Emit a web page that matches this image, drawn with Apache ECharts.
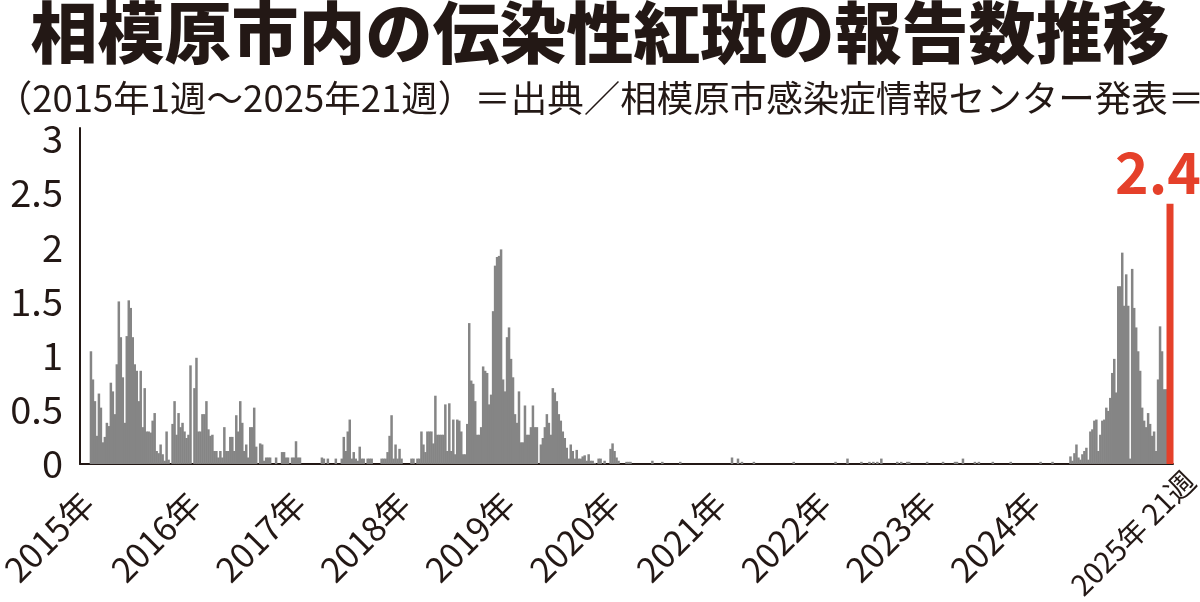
<!DOCTYPE html>
<html><head><meta charset="utf-8">
<script src="https://cdn.jsdelivr.net/npm/echarts@6/dist/echarts.min.js"></script>
<style>html,body{margin:0;padding:0;background:#fff}#c{width:1200px;height:602px}</style>
</head><body><div id="c"></div>
<script>
// Weekly reports per sentinel, 2015 week 1 .. 2025 week 21
const y2015 = [1.04,0.78,0.58,0.26,0.65,0.52,0.2,0.25,0.38,0.35,
  0.75,0.67,0.46,0.92,1.5,1.17,0.8,0.38,1.18,1.51,
  1.44,1.17,0.92,0.86,0.58,0.86,0.34,0.7,0.3,0.3,
  0.29,0.4,0.47,0.12,0.1,0.18,0.09,0.03,0.3,0.04,
  0,0.37,0.58,0.27,0.47,0.34,0.38,0.3,0.24,0.27,
  0.91,0,0.7];
const y2016 = [0.98,0.3,0.3,0.46,0.46,0.58,0.32,0.26,0.27,0.12,
  0.12,0.06,0.12,0.06,0.34,0.12,0.12,0.25,0.25,0.12,
  0.45,0.3,0.58,0.38,0.12,0.18,0.06,0.34,0.34,0.52,
  0.16,0,0.19,0.18,0.03,0.06,0.06,0.06,0,0,
  0.06,0,0,0.11,0.11,0.06,0.06,0,0.06,0.06,
  0.21,0.06];
const y2017 = [0.06,0,0,0,0,0,0,0,0,0,
  0,0.06,0.05,0,0.05,0,0,0,0.05,0,
  0,0.05,0.25,0.12,0.3,0.41,0.05,0.11,0.05,0.03,
  0.16,0.05,0.05,0,0.05,0.05,0.05,0,0,0,
  0,0.05,0.05,0.05,0.11,0.26,0.45,0.05,0.18,0.05,
  0.14,0.05];
const y2018 = [0,0,0,0,0.05,0.05,0,0.05,0.05,0.3,
  0.18,0.11,0.3,0.3,0.3,0.19,0.63,0.27,0.27,0.27,
  0.27,0.55,0.12,0.56,0.12,0.41,0.09,0.41,0.4,0.3,
  0.09,0.09,0.37,1.3,0.77,0.74,0.58,0.27,0.27,0.34,
  0.9,0.86,0.84,0.55,0.64,1.41,1.83,1.91,1.92,1.98,
  0.78,0.67];
const y2019 = [1.17,1.26,0.97,0.8,0.46,0.38,0.67,0.2,0.2,0.54,
  0.27,0.27,0.34,0.54,0.34,0.34,0,0.18,0.24,0.34,
  0.46,0.38,0.27,0.7,0.66,0.58,0.46,0.4,0.3,0.24,
  0.15,0.05,0.18,0.12,0.05,0.13,0.05,0.05,0.07,0.08,
  0.03,0.09,0.03,0.03,0.01,0,0.05,0.05,0,0.03,
  0,0];
const y2020 = [0.14,0.19,0.12,0.06,0.03,0,0,0,0.02,0.02,
  0.02,0,0,0,0,0,0,0,0,0,
  0,0.03,0,0,0,0,0.02,0,0,0,
  0,0,0,0,0,0.02,0,0,0,0,
  0,0,0,0,0,0,0,0,0,0,
  0,0,0];
const y2021 = [0,0,0,0,0,0,0,0,0.06,0,
  0,0.05,0,0.02,0,0,0,0,0,0.02,
  0,0,0,0,0,0,0,0,0,0,
  0,0,0,0,0,0,0,0,0,0.02,
  0,0,0,0,0,0,0,0,0,0,
  0,0];
const y2022 = [0,0,0,0,0,0,0,0,0.02,0,
  0,0,0,0,0.05,0,0,0,0,0,
  0,0.02,0,0,0,0.02,0,0.02,0,0.02,
  0,0.05,0,0,0,0,0,0,0,0.02,
  0,0.02,0,0,0.02,0.02,0,0,0,0,
  0,0];
const y2023 = [0,0,0.02,0,0,0,0,0,0,0,
  0.02,0,0,0,0,0,0.02,0.02,0,0,
  0.05,0,0,0,0,0,0.02,0,0.02,0,
  0,0,0,0,0,0.02,0,0,0,0,
  0,0,0,0,0.02,0,0,0,0,0,
  0,0];
const y2024 = [0,0,0,0,0,0,0,0.02,0,0,
  0,0,0,0.02,0,0,0,0,0,0,
  0,0,0.07,0.03,0.1,0.18,0.06,0.04,0.09,0.12,
  0.15,0.04,0.3,0.32,0.4,0.41,0.12,0.27,0.4,0.41,
  0.52,0.49,0.61,0.84,0.97,0.66,1.64,1.64,1.95,1.46,
  1.75,1.46];
const y2025 = [0.05,1.8,1.44,1.26,1.04,0.86,0.52,0.4,0.34,0.47,
  0.37,0.26,0.3,0.12,0.78,1.27,1.04,0.69,0.69,0.69,
  2.4];

const yearLabels = ['2015年','2016年','2017年','2018年','2019年','2020年','2021年','2022年','2023年','2024年'];
const lastLabel = '2025年 21週';
const yTicks = [0, 0.5, 1, 1.5, 2, 2.5, 3];

const years = [y2015,y2016,y2017,y2018,y2019,y2020,y2021,y2022,y2023,y2024,y2025];
const all = [].concat(...years);
const starts = [];
let acc = 0;
years.forEach(a => { starts.push(acc); acc += a.length; });
const lastIdx = all.length - 1;
const grayData = all.slice(0, lastIdx).map((v, i) => [i, v]);
const redData = [[lastIdx, all[lastIdx]]];
const yearStarts = starts.slice(0, yearLabels.length);

const INK = '#231815';
const RED = '#e5402a';
const FONT = '"Noto Sans CJK JP", "Noto Sans", sans-serif';
const X_MIN = -5.5, X_MAX = lastIdx + 1.5;

const hiddenAxis = (gridIndex, min, max, labelOpt) => ({
  type: 'value', gridIndex, min, max, position: 'bottom',
  axisLine: {show: false, onZero: false}, axisTick: {show: false}, splitLine: {show: false},
  axisLabel: labelOpt
});

const chart = echarts.init(document.getElementById('c'), null, {renderer: 'canvas'});
chart.setOption({
  animation: false,
  backgroundColor: '#fff',
  textStyle: {fontFamily: FONT},
  title: [
    {text: '相模原市内の伝染性紅斑の報告数推移', left: 'center', top: -6,
     textStyle: {fontSize: 67, fontWeight: 900, color: INK, fontFamily: FONT}},
    {text: '（2015年1週～2025年21週）＝出典／相模原市感染症情報センター発表＝', left: 'center', top: 75,
     textStyle: {fontSize: 36.5, fontWeight: 'normal', color: INK, fontFamily: FONT}}
  ],
  grid: [
    {left: 80, right: 27, top: 128, bottom: 138, containLabel: false, outerBoundsMode: 'none'},
    {left: 80, right: 7, top: 128, bottom: 138, containLabel: false, outerBoundsMode: 'none'}
  ],
  xAxis: [
    {type: 'value', gridIndex: 0, min: X_MIN, max: X_MAX, position: 'bottom',
     axisLine: {show: true, onZero: true, lineStyle: {color: INK, width: 2}},
     axisTick: {show: false}, splitLine: {show: false}, axisLabel: {show: false}},
    hiddenAxis(0, X_MIN, X_MAX, {show: false}),
    hiddenAxis(0, -3.97, 539.06, {customValues: yearStarts, rotate: 45, margin: 34, fontSize: 34, color: INK, fontFamily: FONT,
       formatter: v => yearLabels[yearStarts.indexOf(v)] || ''}),
    hiddenAxis(1, X_MIN, X_MAX, {customValues: [lastIdx], rotate: 45, margin: 12, fontSize: 29, color: INK, fontFamily: FONT,
       formatter: () => lastLabel})
  ],
  yAxis: [
    {type: 'value', gridIndex: 0, min: 0, max: 3.1, interval: 0.5,
     axisLine: {show: true, onZero: false, lineStyle: {color: INK, width: 2}},
     axisTick: {show: false}, splitLine: {show: false},
     axisLabel: {showMaxLabel: false, fontSize: 38, margin: 17, color: INK, fontFamily: FONT,
       formatter: v => yTicks.includes(v) ? String(v) : ''}},
    {type: 'value', gridIndex: 1, min: 0, max: 3.1, show: false}
  ],
  series: [
    {type: 'bar', xAxisIndex: 0, yAxisIndex: 0, data: grayData, barWidth: 2.5, itemStyle: {color: '#858585'}, silent: true},
    {type: 'bar', xAxisIndex: 1, yAxisIndex: 0, data: redData, barWidth: 7, itemStyle: {color: RED}, silent: true,
     label: {show: true, position: 'top', distance: 3, offset: [-12, 0], formatter: p => String(p.value[1]),
       fontSize: 57, fontWeight: 'bold', color: RED, fontFamily: FONT}}
  ]
});
</script></body></html>
